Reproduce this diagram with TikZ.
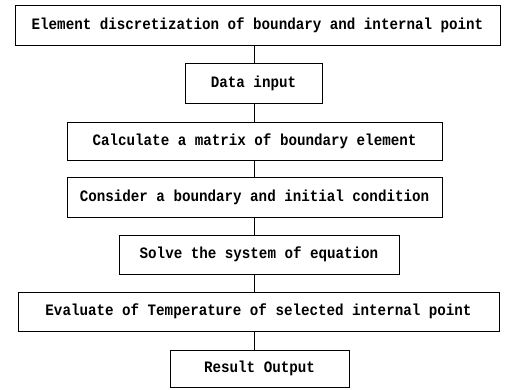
\documentclass[tikz,border=0pt]{standalone}
\usepackage{fontspec}
\setmonofont{Liberation Mono}
\newcommand{\stxt}[1]{\scalebox{1}[1.12]{#1}}
\begin{document}
\begin{tikzpicture}[x=1pt,y=-1pt,
  stepbox/.style={draw=black,line width=0.9pt,inner sep=0pt,
    font=\ttfamily\bfseries\fontsize{14.2}{16}\selectfont,text=black},
  link/.style={draw=black,line width=0.9pt}]
\useasboundingbox[fill=white] (0,0) rectangle (512,389);
\node[stepbox,minimum width=485pt,minimum height=40pt] (n1) at (257.5,25) {\stxt{Element discretization of boundary and internal point}};
\node[stepbox,minimum width=137pt,minimum height=40pt] (n2) at (253.5,83) {\stxt{Data input}};
\node[stepbox,minimum width=375pt,minimum height=38pt] (n3) at (254.5,141) {\stxt{Calculate a matrix of boundary element}};
\node[stepbox,minimum width=375pt,minimum height=40pt] (n4) at (254.5,197) {\stxt{Consider a boundary and initial condition}};
\node[stepbox,minimum width=280pt,minimum height=39pt] (n5) at (259,254.5) {\stxt{Solve the system of equation}};
\node[stepbox,minimum width=481pt,minimum height=39pt] (n6) at (258.5,311.5) {\stxt{Evaluate of Temperature of selected internal point}};
\node[stepbox,minimum width=179pt,minimum height=37pt] (n7) at (259.5,368.5) {\stxt{Result Output}};
\coordinate (sp) at (254,0);
\draw[link] (n1.south -| sp) -- (n2.north -| sp);
\draw[link] (n2.south -| sp) -- (n3.north -| sp);
\draw[link] (n3.south -| sp) -- (n4.north -| sp);
\draw[link] (n4.south -| sp) -- (n5.north -| sp);
\draw[link] (n5.south -| sp) -- (n6.north -| sp);
\draw[link] (n6.south -| sp) -- (n7.north -| sp);
\end{tikzpicture}
\end{document}
